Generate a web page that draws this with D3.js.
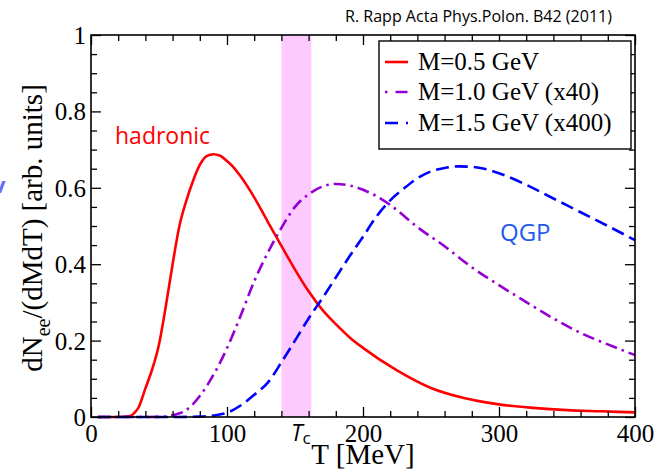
<!DOCTYPE html>
<html><head><meta charset="utf-8">
<script src="https://cdn.jsdelivr.net/npm/d3@7/dist/d3.min.js"></script>
<style>body{margin:0;background:#fff}</style></head>
<body><svg id="c" width="658" height="472" xmlns="http://www.w3.org/2000/svg"></svg>
<script>
// ---- data ----
const redT = [5,20,28,33,35,40,45,50,55,60,65,70,75,80,85,90,95,100,105,110,120,130,140,150,160,170,180,190,200,225,250,275,300,325,350,375,400];
const redV = [0,0,0.002,0.015,0.025,0.075,0.125,0.19,0.29,0.40,0.50,0.565,0.618,0.66,0.683,0.688,0.684,0.670,0.653,0.63,0.575,0.511,0.448,0.386,0.329,0.281,0.243,0.209,0.181,0.122,0.076,0.049,0.033,0.024,0.018,0.015,0.012];
const purT = [5,40,55,60,70,80,90,100,110,120,130,140,150,160,170,180,190,200,220,240,260,280,300,320,340,360,380,400];
const purV = [0,0,0.001,0.005,0.018,0.055,0.11,0.18,0.265,0.355,0.43,0.495,0.55,0.583,0.603,0.61,0.606,0.595,0.555,0.497,0.447,0.392,0.345,0.301,0.258,0.22,0.19,0.162];
const bluT = [5,60,80,90,100,110,120,130,140,150,160,170,180,190,200,210,220,230,240,250,260,270,280,290,300,320,340,360,380,400];
const bluV = [0,0,0.001,0.004,0.011,0.03,0.058,0.09,0.143,0.2,0.258,0.31,0.365,0.42,0.472,0.525,0.567,0.598,0.625,0.643,0.652,0.656,0.655,0.649,0.638,0.608,0.572,0.536,0.5,0.463];
const seriesNames = ["M=0.5 GeV","M=1.0 GeV (x40)","M=1.5 GeV (x400)"];
const seriesColors = ["#ff0000","#9400d3","#0000ff"];
const xTickVals = [0,100,200,300,400];
const xTickLabels = ["0","100","200","300","400"];
const yTickVals = [0,0.2,0.4,0.6,0.8,1];
const yTickLabels = ["0","0.2","0.4","0.6","0.8","1"];
const tcBand = [140,162];

// ---- drawing ----
const svg = d3.select("#c");
svg.append("rect").attr("width",658).attr("height",472).attr("fill","#fff");
const x = d3.scaleLinear().domain([0,400]).range([91,635]);
const y = d3.scaleLinear().domain([0,1]).range([417,35]);
const serif = "'Liberation Serif','Times New Roman',serif";
const sans = "'Open Sans','Liberation Sans',sans-serif";

// Tc band
svg.append("rect").attr("x",x(tcBand[0])).attr("y",y(1)).attr("width",x(tcBand[1])-x(tcBand[0])).attr("height",y(0)-y(1)).attr("fill","#fdcafd");

// curves
const series = [
  {t:redT,v:redV,dash:null},
  {t:purT,v:purV,dash:"12,5,2.5,5"},
  {t:bluT,v:bluV,dash:"13,6"}
];
const line = d3.line().x(d=>x(d[0])).y(d=>y(d[1])).curve(d3.curveMonotoneX);
series.forEach((s,i)=>{
  const pts = s.t.map((t,j)=>[t,s.v[j]]);
  const p = svg.append("path").attr("d",line(pts)).attr("fill","none")
    .attr("stroke",seriesColors[i]).attr("stroke-width",2.6);
  if(s.dash) p.attr("stroke-dasharray",s.dash);
});

// axes with inward ticks
const minorX = d3.range(0,401,20).filter(v=>v%100!==0);
const minorY = d3.range(0,1.0001,0.05).map(v=>+v.toFixed(2)).filter(v=>Math.round(v*100)%20!==0);
function styleAxis(g){ g.select(".domain").remove(); g.selectAll("line").attr("stroke","#000").attr("stroke-width",1.3); }
const gB = svg.append("g").attr("transform","translate(0,417)")
  .call(d3.axisBottom(x).tickValues(xTickVals).tickFormat((d,i)=>xTickLabels[i]).tickSize(-10).tickPadding(0));
styleAxis(gB);
gB.selectAll("text").attr("y",25).attr("dy",null).attr("font-family",serif).attr("font-size",25).attr("fill","#000");
svg.append("g").attr("transform","translate(0,417)").call(d3.axisBottom(x).tickValues(minorX).tickFormat("").tickSize(-6)).call(styleAxis);
svg.append("g").attr("transform","translate(0,35)").call(d3.axisTop(x).tickValues(xTickVals).tickFormat("").tickSize(-10)).call(styleAxis);
svg.append("g").attr("transform","translate(0,35)").call(d3.axisTop(x).tickValues(minorX).tickFormat("").tickSize(-6)).call(styleAxis);
const gL = svg.append("g").attr("transform","translate(91,0)")
  .call(d3.axisLeft(y).tickValues(yTickVals).tickFormat((d,i)=>yTickLabels[i]).tickSize(-10).tickPadding(5));
styleAxis(gL);
gL.selectAll("text").attr("font-family",serif).attr("font-size",25).attr("fill","#000").attr("dy","0.34em");
svg.append("g").attr("transform","translate(91,0)").call(d3.axisLeft(y).tickValues(minorY).tickFormat("").tickSize(-6)).call(styleAxis);
svg.append("g").attr("transform","translate(635,0)").call(d3.axisRight(y).tickValues(yTickVals).tickFormat("").tickSize(-10)).call(styleAxis);
svg.append("g").attr("transform","translate(635,0)").call(d3.axisRight(y).tickValues(minorY).tickFormat("").tickSize(-6)).call(styleAxis);

// frame
svg.append("rect").attr("x",91).attr("y",35).attr("width",544).attr("height",382)
  .attr("fill","none").attr("stroke","#000").attr("stroke-width",1.6);

// legend
const lg = svg.append("g");
lg.append("rect").attr("x",379).attr("y",41).attr("width",252).attr("height",108)
  .attr("fill","#fff").attr("stroke","#000").attr("stroke-width",1.4);
const legY = [62,92,123];
const legBase = [70,100,131];
seriesNames.forEach((n,i)=>{
  const l = lg.append("line").attr("x1",385).attr("x2",408).attr("y1",legY[i]).attr("y2",legY[i])
    .attr("stroke",seriesColors[i]).attr("stroke-width",2.6);
  if(i===1) l.attr("stroke-dasharray","2.5,8,12,5");
  if(i===2) l.attr("stroke-dasharray","13,8,3,5");
  lg.append("text").attr("x",418).attr("y",legBase[i]).text(n)
    .attr("font-family",serif).attr("font-size",25).attr("fill","#000");
});

// axis titles
const yl = svg.append("text").attr("transform","translate(42,228) rotate(-90)")
  .attr("text-anchor","middle").attr("font-family",serif).attr("font-size",29).attr("fill","#000");
yl.append("tspan").text("dN");
yl.append("tspan").attr("dy",8).attr("font-size",20).text("ee");
yl.append("tspan").attr("dy",-8).text("/(dMdT) [arb. units]");

svg.append("text").attr("x",363).attr("y",464).attr("text-anchor","middle")
  .attr("font-family",serif).attr("font-size",29).attr("fill","#000").text("T [MeV]");

// annotations
const tc = svg.append("text").attr("x",291).attr("y",441).attr("font-family",sans).attr("fill","#000");
tc.append("tspan").attr("font-size",23).attr("font-style","italic").text("T");
tc.append("tspan").attr("font-size",17).attr("dy",3).text("c");

svg.append("text").attr("x",115).attr("y",144).attr("font-family",sans).attr("font-size",23)
  .attr("fill","#ff0000").text("hadronic");
svg.append("text").attr("x",500).attr("y",241).attr("font-family",sans).attr("font-size",24)
  .attr("fill","#1f5af0").text("QGP");
svg.append("text").attr("x",345).attr("y",22).attr("font-family",sans).attr("font-size",17)
  .attr("textLength",267).attr("lengthAdjust","spacingAndGlyphs")
  .attr("fill","#000").text("R. Rapp Acta Phys.Polon. B42 (2011)");
svg.append("text").attr("x",-7).attr("y",193).attr("font-family",sans).attr("font-size",22)
  .attr("font-weight","bold").attr("fill","#6a6aff").text("v");
</script></body></html>
